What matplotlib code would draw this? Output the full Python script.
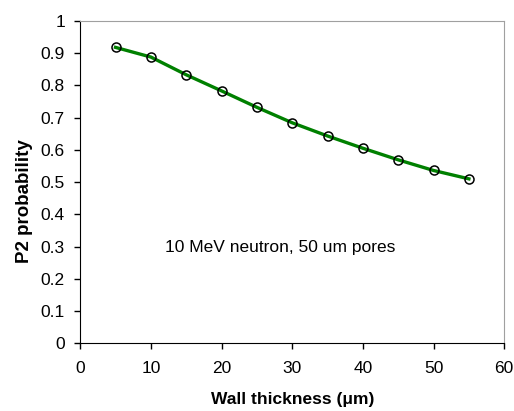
import matplotlib
matplotlib.use("Agg")
import matplotlib.pyplot as plt

# Wall thickness (um) vs P2 probability
wall_thickness = [5, 10, 15, 20, 25, 30, 35, 40, 45, 50, 55]
p2_probability = [0.918, 0.888, 0.833, 0.783, 0.732, 0.684, 0.643, 0.605, 0.569, 0.536, 0.510]

plt.rcParams['font.family'] = ['Liberation Sans', 'DejaVu Sans']

fig = plt.figure(figsize=(5.14, 4.11), dpi=100)
ax = fig.add_axes([0.156, 0.165, 0.825, 0.784])

ax.plot(wall_thickness, p2_probability, color='#008000', linewidth=2.4, zorder=2)
ax.plot(wall_thickness, p2_probability, linestyle='none', marker='o', markersize=6.5,
        markerfacecolor='none', markeredgecolor='black', markeredgewidth=1.1, zorder=3)

ax.set_xlim(0, 60)
ax.set_ylim(0, 1)
ax.set_xticks(range(0, 61, 10))
ax.set_yticks([i / 10 for i in range(11)])
ax.set_yticklabels(['0', '0.1', '0.2', '0.3', '0.4', '0.5', '0.6', '0.7', '0.8', '0.9', '1'])
ax.tick_params(direction='out', length=4, width=1, labelsize=12.5)
ax.tick_params(axis='x', pad=9)
ax.tick_params(axis='y', pad=7)

for side in ['top', 'right']:
    ax.spines[side].set_color('#a0a0a0')
for side in ['left', 'bottom']:
    ax.spines[side].set_color('black')

ax.set_xlabel('Wall thickness (μm)', fontsize=12.5, fontweight='bold')
ax.xaxis.set_label_coords(0.501, -0.152)
ax.set_ylabel('P2 probability', fontsize=13.5, fontweight='bold')
ax.yaxis.set_label_coords(-0.112, 0.44)

ax.text(12, 0.298, '10 MeV neutron, 50 um pores', fontsize=12.5, va='center', ha='left')

fig.savefig('out.png', dpi=100)
